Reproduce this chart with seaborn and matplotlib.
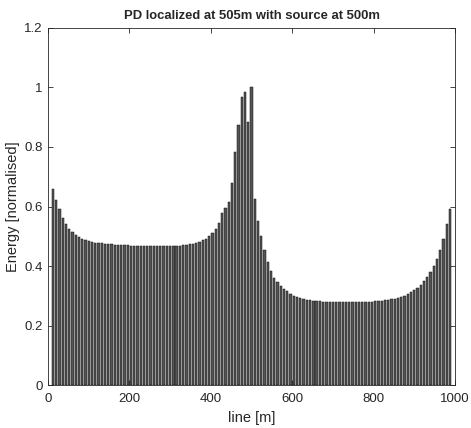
import pandas as pd
import seaborn as sns
import matplotlib.pyplot as plt

# positions along the line (m), one bar every 8 m
positions = list(range(12, 989, 8))

# normalised energy, one value per position
energy = [
    0.658, 0.622, 0.590, 0.563, 0.542, 0.526, 0.514, 0.505, 0.498, 0.492,
    0.488, 0.484, 0.481, 0.479, 0.477, 0.476, 0.475, 0.474, 0.473, 0.472,
    0.471, 0.471, 0.470, 0.470, 0.469, 0.469, 0.468, 0.468, 0.468, 0.467,
    0.467, 0.467, 0.467, 0.467, 0.467, 0.467, 0.467, 0.468, 0.468, 0.469,
    0.470, 0.471, 0.473, 0.475, 0.478, 0.482, 0.486, 0.492, 0.500, 0.510,
    0.525, 0.546, 0.577, 0.594, 0.614, 0.680, 0.784, 0.874, 0.967, 0.986,
    0.885, 1.000, 0.625, 0.550, 0.500, 0.455, 0.415, 0.385, 0.360, 0.345,
    0.333, 0.323, 0.315, 0.307, 0.301, 0.296, 0.292, 0.289, 0.287, 0.285,
    0.284, 0.283, 0.282, 0.281, 0.281, 0.280, 0.280, 0.280, 0.280, 0.280,
    0.280, 0.280, 0.280, 0.280, 0.280, 0.280, 0.280, 0.281, 0.281, 0.282,
    0.283, 0.284, 0.285, 0.287, 0.289, 0.291, 0.294, 0.297, 0.301, 0.306,
    0.312, 0.319, 0.327, 0.337, 0.349, 0.363, 0.380, 0.400, 0.425, 0.455,
    0.490, 0.540, 0.590,
]

df = pd.DataFrame({"line": positions, "energy": energy})

sns.set_style("white")
plt.rcParams["font.family"] = ["Liberation Sans", "DejaVu Sans"]

fig = plt.figure(figsize=(4.71, 4.28), dpi=100)
ax = fig.add_axes([0.102, 0.100, 0.864, 0.835])

sns.barplot(data=df, x="line", y="energy", native_scale=True, width=0.7,
            color="#555555", edgecolor="#111111", linewidth=0.35,
            saturation=1, ax=ax)

ax.set_xlim(0, 1000)
ax.set_ylim(0, 1.2)
ax.set_xticks([0, 200, 400, 600, 800, 1000])
ax.set_yticks([0, 0.2, 0.4, 0.6, 0.8, 1.0, 1.2])
ax.set_yticklabels(["0", "0.2", "0.4", "0.6", "0.8", "1", "1.2"])
ax.tick_params(direction="in", length=3.5, width=0.6, labelsize=9.5,
               colors="#262626", pad=4)
ax.tick_params(axis="x", pad=5.5)
ax.tick_params(top=True, right=True, bottom=True, left=True)
for s in ax.spines.values():
    s.set_color("#262626")
    s.set_linewidth(0.6)

ax.set_xlabel("line [m]", fontsize=10.5, color="#262626", labelpad=4.5)
ax.set_ylabel("Energy [normalised]", fontsize=10.5, color="#262626",
              labelpad=3)
ax.set_title("PD localized at 505m with source at 500m", fontsize=9.4,
             fontweight="bold", pad=6)

fig.savefig("out.png", dpi=100)
